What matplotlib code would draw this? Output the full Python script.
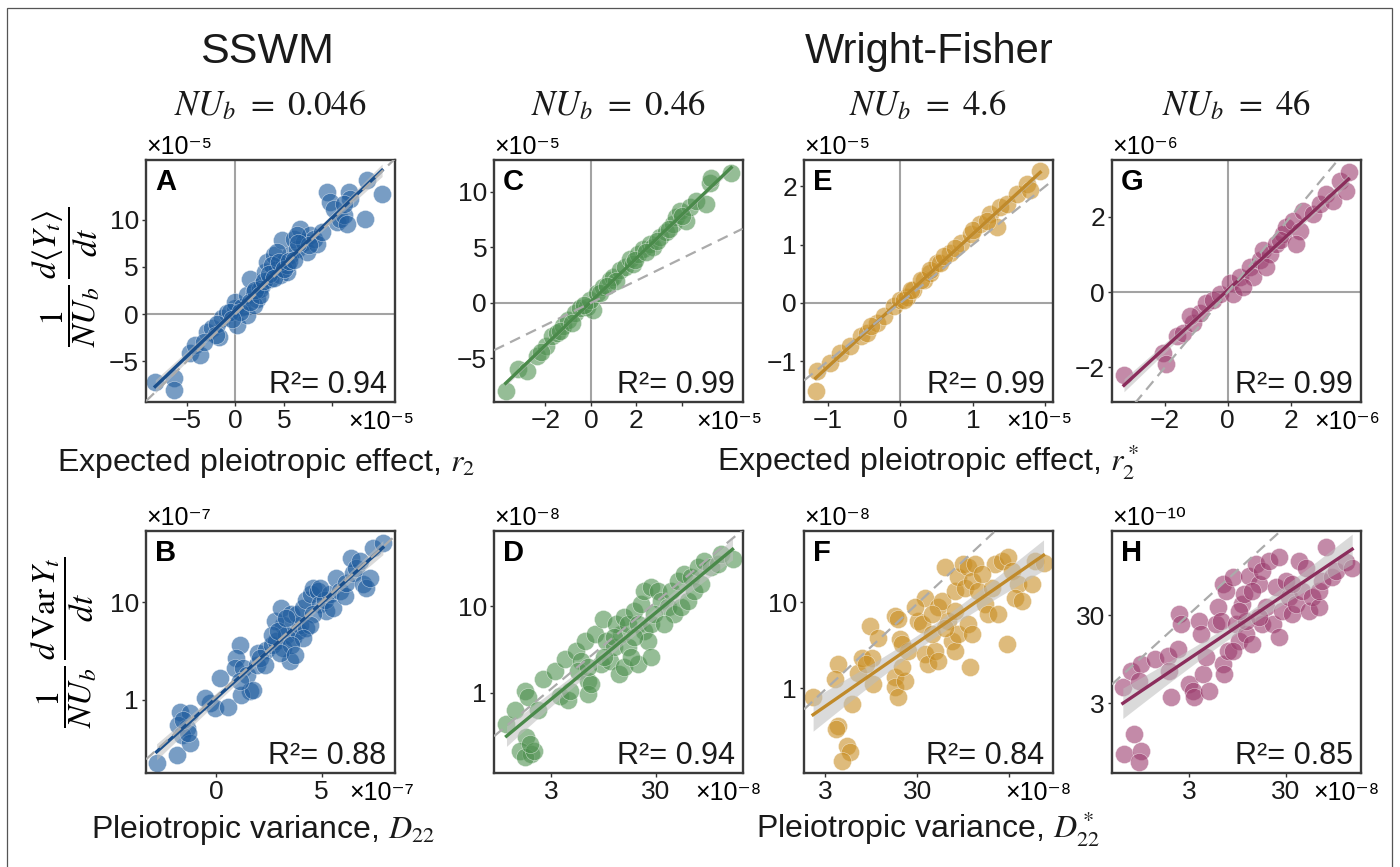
import matplotlib.pyplot as plt
import numpy as np
from matplotlib.patches import Rectangle
from matplotlib.ticker import NullLocator

plt.rcParams['font.family'] = ['Liberation Sans', 'DejaVu Sans']
plt.rcParams['mathtext.fontset'] = 'stix'

# ---- data (units as on the axes) ----
# A: SSWM, mean change vs r2 (x1e-5)
A_x = [-8.25, -6.36, -6.36, -4.64, -4.12, -3.61, -2.92, -2.41, -1.72, -1.37, -0.86, 0.0, 0.0, 0.17, 0.69,
       1.20, 1.20, 1.55, 1.89, 2.23, 2.75, 3.09, 3.26, 3.61, 3.95, 4.30, 4.64, 4.81, 4.98, 5.33, 5.67,
       6.01, 6.36, 6.70, 7.04, 7.39, 7.73, 8.08, 8.42, 8.93, 9.45, 9.79, 10.14, 10.48, 10.82, 11.17,
       11.68, 11.86, 13.40, 13.57, 15.12, 11.17, 4.30, 5.33, 6.36, 7.56, 2.58, 3.78, -0.52, -1.89, 1.89,
       11.51, 0.5, 1.5, 2.0, 2.5, 3.0, 3.5, 4.0, 4.5, 5.0, 5.5, 6.0, 6.5, -0.3, -2.0, -3.2]
A_y = [-7.15, -6.73, -8.03, -4.15, -3.27, -4.33, -1.87, -1.51, -2.39, -0.46, 0.07, 0.60, 1.30, -1.16, 0.77,
       -0.11, 2.01, 3.77, 2.36, 1.65, 3.06, 4.47, 5.53, 3.77, 6.23, 4.82, 4.12, 7.82, 5.53, 4.47, 6.23,
       7.99, 6.94, 9.05, 7.64, 6.58, 8.35, 7.99, 7.46, 8.70, 12.92, 11.87, 11.16, 9.75, 10.11, 10.46,
       12.92, 12.22, 10.11, 14.15, 12.75, 11.69, 6.58, 5.18, 8.35, 7.29, 2.71, 5.18, 0.25, -0.99, 0.95,
       9.58, 0.2, 1.3, 2.6, 2.0, 3.5, 4.2, 3.8, 5.5, 4.8, 5.6, 5.7, 7.5, -0.5, -2.2, -3.0]

# C: WF NUb=0.46 (x1e-5)
C_x = [-3.75, -3.19, -2.80, -2.39, -1.98, -1.73, -1.51, -1.22, -1.00, -0.70, -0.48, -0.19, 0.10, -0.04,
       0.25, 0.54, 0.84, 0.98, 1.27, 1.49, 1.71, 1.86, 2.08, 2.30, 2.59, 2.74, 3.03, 3.33, 3.62, 3.77,
       3.91, 4.21, 4.35, 4.64, 5.08, 5.23, 5.30, 6.18, -2.2, -1.35, -0.85, 0.4, 1.1, 1.95, 2.45, 2.9,
       3.45, 4.0, -0.3, 0.7]
C_y = [-7.92, -5.98, -6.13, -4.79, -3.90, -3.01, -2.71, -2.11, -1.52, -0.92, -0.48, -0.33, -0.63, 0.27,
       0.86, 1.46, 2.05, 2.35, 2.95, 3.24, 3.99, 3.54, 4.43, 4.88, 5.33, 5.03, 5.92, 6.37, 7.11, 7.71,
       8.30, 7.41, 8.60, 9.20, 8.90, 10.83, 11.28, 11.73, -4.4, -2.5, -1.8, 0.9, 2.0, 3.9, 4.6, 5.6,
       6.7, 7.8, -0.2, 1.5]

# E: WF NUb=4.6 (x1e-5)
E_x = [-1.15, -1.17, -0.97, -0.83, -0.69, -0.55, -0.46, -0.32, -0.23, -0.09, 0.0, 0.09, 0.18, 0.32, 0.41,
       0.51, 0.05, 0.14, 0.28, 0.41, 0.55, 0.69, 0.83, 0.97, 1.10, 1.24, 1.38, 1.33, 1.47, 1.61, 1.75,
       1.79, 1.93, 1.0, 0.6, -0.4, 1.2, 0.75]
E_y = [-1.17, -1.51, -1.03, -0.86, -0.74, -0.57, -0.52, -0.35, -0.23, -0.06, 0.05, 0.11, 0.22, 0.39, 0.51,
       0.68, 0.05, 0.22, 0.39, 0.56, 0.68, 0.85, 1.02, 1.19, 1.36, 1.53, 1.64, 1.31, 1.70, 1.87, 2.04,
       1.93, 2.27, 1.25, 0.8, -0.4, 1.4, 0.95]

# G: WF NUb=46 (x1e-6)
G_x = [-3.30, -2.05, -1.95, -1.63, -1.42, -1.10, -0.89, -0.68, -0.47, -0.25, 0.06, 0.17, 0.38, 0.70, 1.02,
       1.12, 1.33, 1.54, 1.76, 1.86, 2.07, 2.29, 2.39, 2.71, 2.92, 3.13, 3.34, 3.56, 3.77, 3.84, 0.80,
       1.23, 1.65, -1.21, 0.49, 2.18]
G_y = [-2.21, -1.61, -1.92, -1.18, -1.09, -0.82, -0.56, -0.30, -0.21, -0.04, 0.23, -0.04, 0.40, 0.67, 0.84,
       1.11, 1.02, 1.28, 1.54, 1.72, 1.89, 1.63, 2.16, 2.07, 2.33, 2.60, 2.42, 2.95, 2.68, 3.19, 0.40,
       0.67, 1.37, -0.65, 0.14, 1.28]

# B: SSWM, variance change vs D22 (x1e-7)
B_x = [-2.80, -1.86, -1.70, -1.23, -1.78, -1.38, -1.62, -1.23, -1.31, -1.54, -0.28, -0.05, 0.58, 0.19,
       -0.52, 1.13, 0.97, 0.90, 1.29, 1.45, 1.60, 1.21, 1.76, 1.13, 1.92, 2.00, 2.39, 2.63, 2.86, 3.18,
       3.33, 3.49, 2.78, 3.10, 3.57, 3.18, 3.65, 3.88, 3.96, 3.81, 4.12, 4.28, 4.51, 4.59, 4.83, 4.91,
       5.22, 5.14, 5.38, 5.53, 4.59, 4.28, 4.43, 4.12, 4.91, 5.69, 5.85, 6.08, 6.16, 6.48, 6.40, 6.64,
       6.79, 6.95, 7.11, 7.26, 7.42, 7.89, 3.57, 2.63, 2.94, 2.08, 2.31, 3.02, 3.73, 3.33]
B_y = [0.222, 0.271, 0.758, 0.729, 0.552, 0.510, 0.436, 0.357, 0.453, 0.622, 0.92, 0.82, 0.85, 1.67,
       1.04, 3.69, 2.69, 2.12, 2.12, 1.81, 1.22, 1.13, 1.27, 1.55, 2.30, 3.03, 3.28, 3.69, 3.99, 5.93,
       4.68, 2.48, 6.42, 8.81, 7.52, 3.41, 4.32, 5.06, 5.93, 7.52, 8.81, 10.7, 12.1, 14.2, 13.1, 9.53,
       8.14, 10.7, 12.1, 8.81, 7.52, 5.48, 5.93, 4.32, 14.2, 18.0, 13.1, 11.6, 16.0, 20.2, 28.8, 22.8,
       26.7, 15.3, 14.2, 18.0, 36.6, 41.2, 3.69, 4.68, 5.06, 2.69, 2.30, 3.03, 2.91, 6.95]

# D: WF NUb=0.46 (x1e-8)
D_x = [1.13, 1.35, 1.68, 1.81, 1.75, 1.51, 1.95, 1.68, 2.09, 1.88, 2.25, 2.52, 3.25, 3.63, 4.36, 4.52,
       4.05, 5.22, 5.83, 5.42, 6.75, 6.75, 7.26, 6.28, 7.82, 9.38, 10.1, 9.04, 10.9, 12.1, 13.5, 15.1,
       14.0, 12.6, 15.1, 16.2, 18.8, 21.7, 20.2, 23.4, 27.1, 25.2, 20.2, 27.1, 16.2, 18.8, 23.4, 27.1,
       31.3, 33.7, 39.0, 42.0, 45.2, 52.3, 60.5, 48.6, 56.2, 65.1, 70.0, 75.3, 87.1, 81.1, 101, 117,
       126, 162, 29.1, 36.3, 12.1, 9.73, 6.75, 17.5]
D_y = [0.44, 0.63, 1.06, 0.89, 0.31, 0.217, 0.199, 0.182, 0.217, 0.259, 0.63, 1.45, 1.81, 0.93, 0.82,
       1.06, 2.46, 3.07, 2.35, 1.81, 1.39, 0.97, 1.27, 4.0, 4.77, 7.09, 4.0, 2.15, 2.35, 3.35, 1.65,
       1.97, 4.77, 6.21, 7.41, 6.21, 8.83, 10.5, 6.21, 5.2, 6.21, 4.0, 2.15, 2.57, 3.35, 4.36, 15.0,
       16.4, 15.0, 11.5, 9.66, 15.0, 8.09, 9.66, 11.5, 19.5, 23.3, 21.4, 15.0, 27.8, 33.2, 17.9, 27.8,
       30.4, 39.6, 34.7, 8.09, 6.21, 4.36, 2.57, 1.97, 2.57]

# F: WF NUb=4.6 (x1e-8)
F_x = [2.22, 4.15, 3.82, 5.80, 4.15, 3.98, 5.12, 5.56, 4.52, 6.85, 7.45, 9.18, 11.3, 9.58, 9.98, 8.43,
       17.1, 18.6, 19.4, 17.1, 17.1, 18.6, 22.0, 20.3, 23.9, 20.3, 30.8, 33.4, 36.3, 36.3, 39.5, 46.7,
       42.9, 50.7, 55.1, 59.9, 65.1, 76.9, 70.8, 76.9, 83.7, 76.9, 83.7, 94.8, 107, 98.9, 117, 127,
       107, 117, 112, 138, 163, 177, 193, 228, 209, 248, 281, 292, 318, 376, 346, 408, 525, 570, 703,
       50.7, 28.3, 42.9, 150, 59.9]
F_y = [0.78, 1.90, 1.27, 0.65, 0.365, 0.333, 0.213, 0.179, 0.143, 1.52, 2.27, 5.31, 3.88, 2.27, 1.11,
       1.90, 6.93, 6.34, 3.71, 1.33, 1.02, 0.78, 1.22, 1.74, 2.72, 3.25, 6.07, 5.55, 11.3, 2.48, 1.90,
       2.72, 4.25, 8.67, 10.4, 25.3, 6.07, 7.93, 3.55, 2.72, 4.25, 13.5, 19.4, 27.7, 25.3, 14.8, 17.7,
       27.7, 5.55, 4.25, 1.74, 13.5, 9.48, 7.25, 14.8, 7.25, 27.7, 30.2, 3.25, 33.1, 23.1, 16.2, 11.3,
       10.4, 16.2, 30.2, 28.9, 2.08, 8.67, 7.25, 21.2, 5.07]

# H: WF NUb=46 (x in 1e-8, y in 1e-10)
H_x = [0.621, 0.757, 0.959, 0.922, 0.646, 0.819, 0.959, 0.922, 1.32, 1.81, 1.88, 1.95, 2.29, 2.38, 2.48,
       3.02, 3.27, 3.40, 3.84, 3.99, 4.15, 4.86, 4.49, 5.69, 5.93, 6.41, 6.67, 6.93, 6.67, 7.21, 7.52,
       8.45, 9.16, 9.91, 10.7, 11.1, 11.6, 12.6, 13.6, 14.7, 15.9, 17.2, 17.2, 18.7, 20.2, 21.9, 23.7,
       25.6, 25.6, 27.7, 30.0, 32.4, 35.2, 38.0, 41.1, 44.6, 48.2, 52.2, 56.5, 66.2, 66.2, 71.6, 77.4,
       90.8, 98.2, 125, 146, 11.6, 15.9, 35.2, 8.45, 9.91, 13.6]
H_y = [4.52, 6.98, 8.32, 5.38, 0.789, 1.33, 0.861, 0.635, 9.48, 10.4, 6.98, 3.48, 12.3, 30.8, 23.7, 4.93,
       4.14, 3.48, 25.9, 18.2, 6.41, 4.14, 9.91, 23.7, 36.6, 25.9, 8.32, 6.41, 67.4, 56.7, 11.8, 80.4,
       23.7, 15.3, 40.0, 52.0, 18.2, 83.9, 14.0, 114, 67.4, 95.7, 23.7, 36.6, 124, 23.7, 61.8, 136,
       16.7, 33.6, 73.6, 47.6, 30.8, 40.0, 124, 56.7, 104, 33.6, 47.6, 36.6, 56.7, 73.6, 176, 80.4,
       95.7, 119, 104, 25.9, 28.2, 67.4, 11.8, 33.6, 56.7]

r2_labels = ['0.94', '0.99', '0.99', '0.99', '0.88', '0.94', '0.84', '0.85']
nub_labels = ['0.046', '0.46', '4.6', '46']

# dashed reference lines: y = k*x (B: log10 y = a + b*x)
guide_k = [1, 1, 1, 1, None, 0.37, 0.32, 10.2]
B_guide = (0.032, 0.195)

point_colors = ['#1f5c9e', '#4f9150', '#c98f25', '#9c3d6e']
line_colors = ['#1a4f8c', '#4a8a4a', '#c08a2a', '#8b2d5c']

# ---- layout (figure fractions) ----
col_left = [0.1043, 0.3529, 0.5743, 0.7943]
col_w = 0.1775
row_bottom = [0.5363, 0.1084]
row_h = 0.279

panels = [
    dict(x=A_x, y=A_y, mode='lin', xlim=(-9.2, 16.4), ylim=(-9.3, 16.3),
         xt=[-5, 0, 5, 10], xl=['−5', '0', '5', ''], yt=[-5, 0, 5, 10], yl=['−5', '0', '5', '10'],
         ex='×10⁻⁵', ey='×10⁻⁵'),
    dict(x=C_x, y=C_y, mode='lin', xlim=(-4.26, 6.68), ylim=(-8.93, 12.86),
         xt=[-2, 0, 2, 4], xl=['−2', '0', '2', ''], yt=[-5, 0, 5, 10], yl=['−5', '0', '5', '10'],
         ex='×10⁻⁵', ey='×10⁻⁵'),
    dict(x=E_x, y=E_y, mode='lin', xlim=(-1.33, 2.1), ylim=(-1.70, 2.45),
         xt=[-1, 0, 1, 2], xl=['−1', '0', '1', ''], yt=[-1, 0, 1, 2], yl=['−1', '0', '1', '2'],
         ex='×10⁻⁵', ey='×10⁻⁵'),
    dict(x=G_x, y=G_y, mode='lin', xlim=(-3.68, 4.22), ylim=(-2.92, 3.5),
         xt=[-2, 0, 2], xl=['−2', '0', '2'], yt=[-2, 0, 2], yl=['−2', '0', '2'],
         ex='×10⁻⁶', ey='×10⁻⁶'),
    dict(x=B_x, y=B_y, mode='semilog', xlim=(-3.3, 8.44), ylim=(0.177, 54),
         xt=[0, 5], xl=['0', '5'], yt=[1, 10], yl=['1', '10'], ex='×10⁻⁷', ey='×10⁻⁷'),
    dict(x=D_x, y=D_y, mode='loglog', xlim=(0.86, 202), ylim=(0.12, 72.8),
         xt=[3, 30], xl=['3', '30'], yt=[1, 10], yl=['1', '10'], ex='×10⁻⁸', ey='×10⁻⁸'),
    dict(x=F_x, y=F_y, mode='loglog', xlim=(1.77, 880), ylim=(0.103, 67),
         xt=[3, 30, 300], xl=['3', '30', ''], yt=[1, 10], yl=['1', '10'], ex='×10⁻⁸', ey='×10⁻⁸'),
    dict(x=H_x, y=H_y, mode='loglog', xlim=(0.48, 178), ylim=(0.48, 270),
         xt=[3, 30], xl=['3', '30'], yt=[3, 30], yl=['3', '30'], ex='×10⁻⁸', ey='×10⁻¹⁰'),
]
letters = ['A', 'C', 'E', 'G', 'B', 'D', 'F', 'H']


def fit_band(u, v, us):
    b, a = np.polyfit(u, v, 1)
    n = len(u)
    s = np.sqrt(np.sum((v - (a + b * u)) ** 2) / (n - 2))
    se = s * np.sqrt(1 / n + (us - u.mean()) ** 2 / np.sum((u - u.mean()) ** 2))
    fit = a + b * us
    return fit, fit - 1.99 * se, fit + 1.99 * se


fig = plt.figure(figsize=(14, 8.67), dpi=100)

for i, p in enumerate(panels):
    row, col = divmod(i, 4)
    ax = fig.add_axes([col_left[col], row_bottom[row], col_w, row_h])
    x = np.array(p['x'], float)
    y = np.array(p['y'], float)

    if p['mode'] == 'loglog':
        ax.set_xscale('log')
        ax.set_yscale('log')
        u, v = np.log10(x), np.log10(y)
        us = np.linspace(u.min(), u.max(), 100)
        xs_fit = 10 ** us
        back = lambda t: 10 ** t
        xg = np.geomspace(*p['xlim'], 200)
        yg = guide_k[i] * xg
    elif p['mode'] == 'semilog':
        ax.set_yscale('log')
        u, v = x, np.log10(y)
        us = np.linspace(u.min(), u.max(), 100)
        xs_fit = us
        back = lambda t: 10 ** t
        xg = np.linspace(*p['xlim'], 200)
        yg = 10 ** (B_guide[0] + B_guide[1] * xg)
    else:
        u, v = x, y
        us = np.linspace(u.min(), u.max(), 100)
        xs_fit = us
        back = lambda t: t
        xg = np.linspace(*p['xlim'], 200)
        yg = guide_k[i] * xg
        ax.axhline(0, color='#a3a3a3', lw=1.5, zorder=1)
        ax.axvline(0, color='#a3a3a3', lw=1.5, zorder=1)

    ax.scatter(x, y, s=170, color=point_colors[col], alpha=0.6,
               edgecolors='white', linewidths=0.4, zorder=2)
    fit, lo, hi = fit_band(u, v, us)
    ax.fill_between(xs_fit, back(lo), back(hi), color='#bdbdbd', alpha=0.55, lw=0, zorder=3)
    ax.plot(xs_fit, back(fit), color=line_colors[col], lw=2.4, zorder=4)
    ax.plot(xg, yg, color='#ababab', lw=1.6, dashes=(5, 3), zorder=5)

    ax.set_xlim(p['xlim'])
    ax.set_ylim(p['ylim'])
    ax.set_xticks(p['xt'])
    ax.set_xticklabels(p['xl'])
    ax.set_yticks(p['yt'])
    ax.set_yticklabels(p['yl'])
    ax.xaxis.set_minor_locator(NullLocator())
    ax.yaxis.set_minor_locator(NullLocator())
    ax.tick_params(length=3, width=1.0, color='#333333', labelsize=19, pad=2,
                   labelcolor='#1a1a1a')
    for sp in ax.spines.values():
        sp.set_color('#3a3a3a')
        sp.set_linewidth(1.7)

    ax.text(0.036, 0.967, letters[i], transform=ax.transAxes, ha='left', va='top',
            fontsize=21, fontweight='bold')
    ax.text(0.968, 0.037, 'R²= ' + r2_labels[i], transform=ax.transAxes, ha='right',
            va='baseline', fontsize=22, color='#1a1a1a')
    ax.annotate(p['ey'], xy=(0, 1), xycoords='axes fraction', xytext=(0, 1),
                textcoords='offset points', ha='left', va='bottom', fontsize=18)
    ax.annotate(p['ex'], xy=(1, 0), xycoords='axes fraction', xytext=(14, -14.5),
                textcoords='offset points', ha='right', va='center', fontsize=18)

# column headers
fig.text(267 / 1400, 1 - 52 / 867, 'SSWM', ha='center', va='center', fontsize=31, color='#1a1a1a')
fig.text(929 / 1400, 1 - 52 / 867, 'Wright-Fisher', ha='center', va='center', fontsize=30,
         color='#1a1a1a')
for col in range(4):
    cx = col_left[col] + col_w / 2
    fig.text(cx, 1 - 115 / 867, r'$NU_b\ =\ %s$' % nub_labels[col], ha='center', va='baseline',
             fontsize=25, color='#1a1a1a')

# axis titles
fig.text(266 / 1400, 1 - 471 / 867, r'Expected pleiotropic effect, $r_2$', ha='center',
         va='baseline', fontsize=23, color='#1a1a1a')
fig.text(928 / 1400, 1 - 471 / 867, r'Expected pleiotropic effect, $r_2^*$', ha='center',
         va='baseline', fontsize=23, color='#1a1a1a')
fig.text(263 / 1400, 1 - 838 / 867, r'Pleiotropic variance, $D_{22}$', ha='center',
         va='baseline', fontsize=23, color='#1a1a1a')
fig.text(928 / 1400, 1 - 838 / 867, r'Pleiotropic variance, $D_{22}^*$', ha='center',
         va='baseline', fontsize=23, color='#1a1a1a')
fig.text(66 / 1400, 1 - 277 / 867, r'$\dfrac{1}{NU_b}\,\dfrac{d\langle Y_t\rangle}{dt}$',
         rotation=90, ha='center', va='center', fontsize=24)
fig.text(64 / 1400, 1 - 642 / 867, r'$\dfrac{1}{NU_b}\,\dfrac{d\,\mathrm{Var}\,Y_t}{dt}$',
         rotation=90, ha='center', va='center', fontsize=24)

# thin frame round the figure
fig.patches.append(Rectangle((7 / 1400, -0.01), 1385 / 1400, 1 - 8 / 867 + 0.01,
                             transform=fig.transFigure, fill=False, ec='#555555', lw=0.9))

fig.savefig('out.png', dpi=100)
